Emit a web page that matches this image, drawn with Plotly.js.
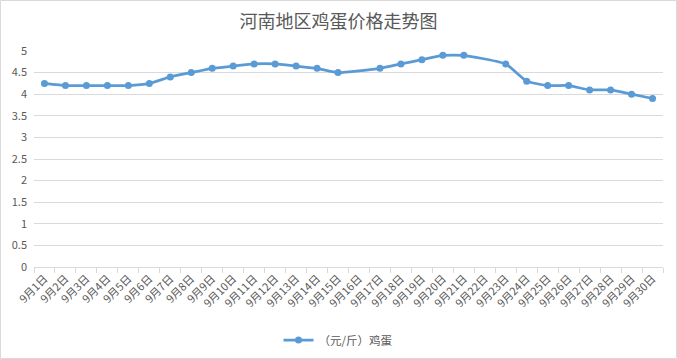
<!DOCTYPE html>
<html>
<head>
<meta charset="utf-8">
<script src="https://cdn.plot.ly/plotly-3.0.1.min.js"></script>
<style>html,body{margin:0;padding:0;background:#fff;}#chart{width:677px;height:359px;}</style>
</head>
<body>
<div id="chart"></div>
<script>
const categories = ["9月1日","9月2日","9月3日","9月4日","9月5日","9月6日","9月7日","9月8日","9月9日","9月10日","9月11日","9月12日","9月13日","9月14日","9月15日","9月16日","9月17日","9月18日","9月19日","9月20日","9月21日","9月22日","9月23日","9月24日","9月25日","9月26日","9月27日","9月28日","9月29日","9月30日"];
const eggPrice = [4.25,4.2,4.2,4.2,4.2,4.25,4.4,4.5,4.6,4.65,4.7,4.7,4.65,4.6,4.5,null,4.6,4.7,4.8,4.9,4.9,null,4.7,4.3,4.2,4.2,4.1,4.1,4.0,3.9];
const seriesName = "（元/斤）鸡蛋";
const yTicks = [0,0.5,1,1.5,2,2.5,3,3.5,4,4.5,5];

const font = "Noto Sans CJK SC, Microsoft YaHei, sans-serif";
const trace = {
  x: categories, y: eggPrice, type: "scatter", mode: "lines+markers",
  name: seriesName, connectgaps: true,
  line: {color: "#5b9bd5", width: 2.75, shape: "spline", smoothing: 0.4},
  marker: {color: "#5b9bd5", size: 7}
};
const layout = {
  width: 677, height: 359,
  margin: {l: 34, r: 14, t: 51, b: 92, autoexpand: false},
  paper_bgcolor: "#fff", plot_bgcolor: "#fff",
  title: {text: "河南地区鸡蛋价格走势图", x: 0.5, xref: "container", xanchor: "center", y: 0.94, yanchor: "middle",
          font: {family: font, size: 18, color: "#595959"}},
  font: {family: font, color: "#595959", size: 10},
  xaxis: {type: "category", range: [-0.5, categories.length - 0.5], autorange: false, automargin: false,
          tickangle: -45, tickson: "boundaries", ticks: "outside", ticklen: 5,
          tickcolor: "#d9d9d9", showline: true, linecolor: "#d9d9d9", linewidth: 1,
          showgrid: false, tickfont: {family: font, size: 11, color: "#595959"}, fixedrange: true},
  yaxis: {range: [0, 5], automargin: false, tickvals: yTicks, showgrid: true, gridcolor: "#d9d9d9", gridwidth: 1,
          zeroline: true, zerolinecolor: "#d9d9d9", showline: false, ticks: "",
          tickfont: {family: font, size: 11, color: "#595959"}, ticklabelstandoff: 6},
  showlegend: true,
  legend: {orientation: "h", x: 0.5, xanchor: "center", xref: "container", y: -0.338, yref: "paper", yanchor: "middle",
           font: {family: font, size: 11.5, color: "#595959"}},
  shapes: [{type: "rect", xref: "paper", yref: "paper", x0: -0.0533, x1: 1.0215, y0: -0.4236, y1: 1.2338,
            line: {color: "#d9d9d9", width: 1}, fillcolor: "rgba(0,0,0,0)", layer: "below"}]
};
Plotly.newPlot("chart", [trace], layout, {displayModeBar: false, staticPlot: true});
</script>
</body>
</html>
